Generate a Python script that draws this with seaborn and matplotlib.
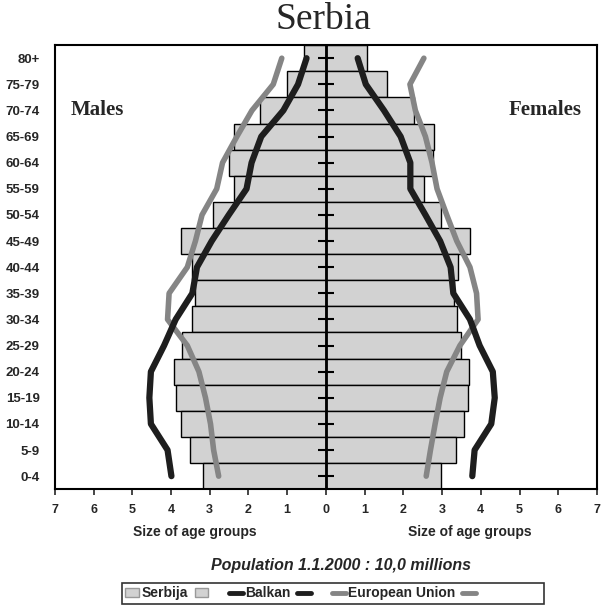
import matplotlib
matplotlib.use('Agg')
import matplotlib.pyplot as plt
import matplotlib.patches as mpatches
import matplotlib.lines as mlines
import numpy as np
import pandas as pd
import seaborn as sns

ages = ['80+', '75-79', '70-74', '65-69', '60-64', '55-59', '50-54', '45-49',
        '40-44', '35-39', '30-34', '25-29', '20-24', '15-19', '10-14', '5-9', '0-4']

# Serbia, % of population in each age group
serbia_m = [0.56, 1.00, 1.70, 2.38, 2.51, 2.38, 2.92, 3.74, 3.45, 3.38, 3.47,
            3.71, 3.93, 3.88, 3.75, 3.52, 3.18]
serbia_f = [1.06, 1.57, 2.27, 2.79, 2.76, 2.53, 2.97, 3.71, 3.42, 3.31, 3.38,
            3.49, 3.70, 3.67, 3.57, 3.35, 2.97]

balkan_m = [0.50, 0.72, 1.10, 1.67, 1.92, 2.05, 2.51, 2.95, 3.33, 3.45, 3.88,
            4.18, 4.52, 4.56, 4.52, 4.09, 3.99]
balkan_f = [0.82, 1.03, 1.50, 1.93, 2.18, 2.18, 2.57, 2.95, 3.22, 3.29, 3.72,
            3.97, 4.31, 4.36, 4.27, 3.84, 3.78]

eu_m = [1.14, 1.36, 1.91, 2.30, 2.67, 2.82, 3.20, 3.37, 3.58, 4.05, 4.09,
        3.58, 3.28, 3.11, 2.98, 2.90, 2.77]
eu_f = [2.53, 2.17, 2.31, 2.57, 2.74, 2.87, 3.12, 3.38, 3.72, 3.89, 3.93,
        3.46, 3.12, 2.95, 2.82, 2.70, 2.59]

xticks = list(range(-7, 8))

BAR_COL = '#d2d2d2'
BALKAN_COL = '#1e1e1e'
EU_COL = '#858585'

sns.set_style('white')
plt.rcParams['font.family'] = ['Liberation Sans', 'DejaVu Sans']

df = pd.DataFrame({'age': ages, 'male': [-v for v in serbia_m], 'female': serbia_f})

fig = plt.figure(figsize=(6.03, 6.10), dpi=100)
ax = fig.add_axes([0.091, 0.198, 0.899, 0.728])

sns.barplot(data=df, x='male', y='age', order=ages, orient='h', color=BAR_COL,
            width=1.0, edgecolor='black', linewidth=1.0, saturation=1, ax=ax)
sns.barplot(data=df, x='female', y='age', order=ages, orient='h', color=BAR_COL,
            width=1.0, edgecolor='black', linewidth=1.0, saturation=1, ax=ax)

pos = np.arange(len(ages))
ax.plot([-v for v in eu_m], pos, color=EU_COL, lw=4, solid_capstyle='round')
ax.plot(eu_f, pos, color=EU_COL, lw=4, solid_capstyle='round')
ax.plot([-v for v in balkan_m], pos, color=BALKAN_COL, lw=4.5, solid_capstyle='round')
ax.plot(balkan_f, pos, color=BALKAN_COL, lw=4.5, solid_capstyle='round')

# centre axis with small ticks
ax.axvline(0, color='black', lw=2)
ax.plot(np.zeros(len(ages)), pos, ls='none', marker='_', markersize=12,
        markeredgewidth=1.5, color='black')

ax.set_xlim(-7, 7)
ax.set_ylim(len(ages) - 0.5, -0.5)
ax.set_xticks(xticks)
ax.set_xticklabels([str(abs(t)) for t in xticks], fontsize=9, fontweight='bold')
ax.set_yticks(pos)
ax.set_yticklabels(ages, fontsize=9.5, fontweight='bold')
ax.tick_params(axis='x', direction='out', length=4, width=1.2, pad=7, bottom=True)
ax.tick_params(axis='y', length=0, pad=11)
ax.set_xlabel('')
ax.set_ylabel('')
for s in ax.spines.values():
    s.set_color('black')
    s.set_linewidth(1.5)

ax.text(-6.6, 2, 'Males', fontsize=15, fontweight='bold', family='Liberation Serif',
        va='center', ha='left')
ax.text(6.6, 2, 'Females', fontsize=15, fontweight='bold', family='Liberation Serif',
        va='center', ha='right')

fig.text(0.537, 0.968, 'Serbia', fontsize=27, family='Liberation Serif',
         ha='center', va='center')
fig.text(0.323, 0.128, 'Size of age groups', fontsize=10, fontweight='bold', ha='center', va='center')
fig.text(0.779, 0.128, 'Size of age groups', fontsize=10, fontweight='bold', ha='center', va='center')
fig.text(0.565, 0.073, 'Population 1.1.2000 : 10,0 millions', fontsize=11.5,
         fontweight='bold', style='italic', ha='center', va='center')

# legend as in the original: each key shown before and after its label
serbija_h = mpatches.Patch(facecolor=BAR_COL, edgecolor='#999999')
balkan_h = mlines.Line2D([], [], color=BALKAN_COL, lw=3.5)
eu_h = mlines.Line2D([], [], color=EU_COL, lw=3.5)
handles = [serbija_h, serbija_h, balkan_h, balkan_h, eu_h, eu_h]
labels = ['Serbija', '   ', 'Balkan', '   ', 'European Union', '                ']
leg = fig.legend(handles, labels, loc='lower left', bbox_to_anchor=(0.202, 0.010),
                 ncol=6, frameon=True, fancybox=False, handlelength=1.0,
                 borderpad=0.25, handletextpad=0.15, columnspacing=0.5, borderaxespad=0,
                 prop={'weight': 'bold', 'size': 10})
leg.get_frame().set_edgecolor('black')
leg.get_frame().set_linewidth(1.2)

fig.savefig('out.png', dpi=100)
